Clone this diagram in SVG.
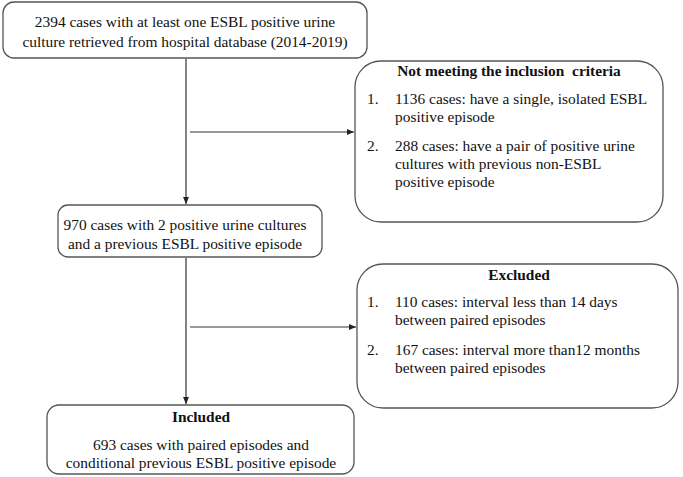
<svg xmlns="http://www.w3.org/2000/svg" width="683" height="477" viewBox="0 0 683 477">
<style>
.box{fill:#fff;stroke:#555;stroke-width:1.3}
text{font-family:"Liberation Serif","Times New Roman",serif;font-size:15.4px;fill:#111}
.c{text-anchor:middle}
.b{font-weight:bold}
.ln{stroke:#333;stroke-width:1.2;fill:none}
</style>
<defs>
<marker id="ah" markerWidth="8" markerHeight="8" refX="7" refY="4" orient="auto" markerUnits="userSpaceOnUse">
<path d="M0,1 L7,4 L0,7 Z" fill="#222"/>
</marker>
</defs>
<rect width="683" height="477" fill="#fff"/>
<g id="connectors">
<line class="ln" x1="186" y1="59" x2="186" y2="204" marker-end="url(#ah)"/>
<line class="ln" x1="190" y1="132" x2="354" y2="132" marker-end="url(#ah)"/>
<line class="ln" x1="186" y1="258" x2="186" y2="404" marker-end="url(#ah)"/>
<line class="ln" x1="190" y1="327" x2="356" y2="327" marker-end="url(#ah)"/>
</g>
<g id="n1">
<rect class="box" x="3" y="2" width="364" height="56" rx="11"/>
<text class="c" x="185" y="27">2394 cases with at least one ESBL positive urine</text>
<text class="c" x="185" y="47">culture retrieved from hospital database (2014-2019)</text>
</g>
<g id="n2">
<rect class="box" x="355" y="61" width="308" height="161" rx="26"/>
<text class="c b" x="509" y="76" xml:space="preserve">Not meeting the inclusion  criteria</text>
<text x="367" y="104">1.</text><text x="395" y="104">1136 cases: have a single, isolated ESBL</text>
<text x="395" y="122">positive episode</text>
<text x="367" y="151">2.</text><text x="395" y="151">288 cases: have a pair of positive urine</text>
<text x="395" y="169">cultures with previous non-ESBL</text>
<text x="395" y="187">positive episode</text>
</g>
<g id="n3">
<rect class="box" x="58" y="205" width="264" height="52" rx="10"/>
<text class="c" x="185" y="230">970 cases with 2 positive urine cultures</text>
<text class="c" x="185" y="249">and a previous ESBL positive episode</text>
</g>
<g id="n4">
<rect class="box" x="357" y="264" width="321" height="144" rx="26"/>
<text class="c b" x="519" y="280">Excluded</text>
<text x="367" y="307">1.</text><text x="395" y="307">110 cases: interval less than 14 days</text>
<text x="395" y="325">between paired episodes</text>
<text x="367" y="355">2.</text><text x="395" y="355">167 cases: interval more than12 months</text>
<text x="395" y="373">between paired episodes</text>
</g>
<g id="n5">
<rect class="box" x="47" y="405" width="307" height="69" rx="12"/>
<text class="c b" x="201" y="422">Included</text>
<text class="c" x="201" y="450">693 cases with paired episodes and</text>
<text class="c" x="201" y="468">conditional previous ESBL positive episode</text>
</g>
</svg>
